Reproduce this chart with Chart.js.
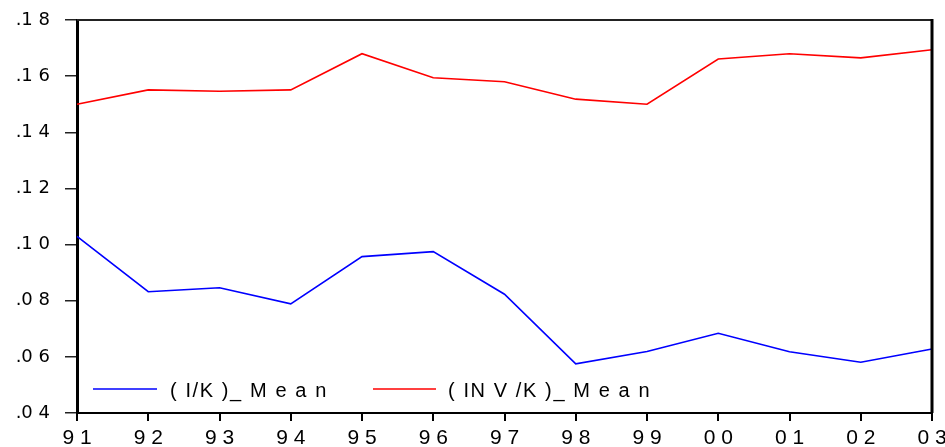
<!DOCTYPE html>
<html>
<head>
<meta charset="utf-8">
<script src="https://cdn.jsdelivr.net/npm/chart.js@4/dist/chart.umd.min.js"></script>
<style>
  html, body { margin: 0; padding: 0; background: #fff; }
  canvas { display: block; }
</style>
</head>
<body>
<canvas id="c" width="945" height="447"></canvas>
<script>
// Categories (years, shown as EViews prints them)
const years = ["9 1", "9 2", "9 3", "9 4", "9 5", "9 6", "9 7", "9 8", "9 9", "0 0", "0 1", "0 2", "0 3"];
// Series values
const ikMean  = [0.1029, 0.0832, 0.0846, 0.0789, 0.0957, 0.0975, 0.0823, 0.0575, 0.0619, 0.0684, 0.0618, 0.0581, 0.0628];
const invkMean = [0.1500, 0.1551, 0.1546, 0.1551, 0.1680, 0.1594, 0.1580, 0.1518, 0.1500, 0.1661, 0.1680, 0.1665, 0.1694];
// Series names
const seriesNames = ["( I/K )_ M e a n", "( IN V /K )_ M e a n"];
// Y tick labels (bottom to top)
const yTickValues = [0.04, 0.06, 0.08, 0.10, 0.12, 0.14, 0.16, 0.18];
const yTickLabels = [".0 4", ".0 6", ".0 8", ".1 0", ".1 2", ".1 4", ".1 6", ".1 8"];

const frame = {
  id: 'frame',
  afterDraw(chart) {
    const { ctx, chartArea: a } = chart;
    ctx.save();
    ctx.strokeStyle = '#222';
    ctx.lineWidth = 2;
    ctx.beginPath();
    ctx.moveTo(a.left, a.top);
    ctx.lineTo(a.right, a.top);
    ctx.stroke();
    ctx.strokeStyle = '#000';
    ctx.lineWidth = 3;
    ctx.beginPath();
    ctx.moveTo(a.right, a.top - 1);
    ctx.lineTo(a.right, a.bottom);
    ctx.stroke();
    ctx.restore();
  }
};

const innerLegend = {
  id: 'innerLegend',
  afterDatasetsDraw(chart) {
    const { ctx, chartArea: a } = chart;
    const y = a.bottom - 24;
    const items = [
      { x1: a.left + 16, x2: a.left + 80, tx: a.left + 93 },
      { x1: a.left + 296, x2: a.left + 359, tx: a.left + 371 }
    ];
    ctx.save();
    ctx.font = '20px "Liberation Sans", Arial, sans-serif';
    ctx.textBaseline = 'alphabetic';
    ctx.textAlign = 'left';
    try { ctx.letterSpacing = '1.6px'; } catch (e) {}
    chart.data.datasets.forEach((ds, i) => {
      const it = items[i];
      ctx.strokeStyle = ds.borderColor;
      ctx.lineWidth = 1.5;
      ctx.beginPath();
      ctx.moveTo(it.x1, y);
      ctx.lineTo(it.x2, y);
      ctx.stroke();
      ctx.fillStyle = '#000';
      ctx.fillText(ds.label, it.tx, y + 8);
    });
    ctx.restore();
  }
};

new Chart(document.getElementById('c'), {
  type: 'line',
  data: {
    labels: years,
    datasets: [
      { label: seriesNames[0], data: ikMean, borderColor: '#0000FF', borderWidth: 1.6, pointRadius: 0, tension: 0, fill: false },
      { label: seriesNames[1], data: invkMean, borderColor: '#FF0000', borderWidth: 1.6, pointRadius: 0, tension: 0, fill: false }
    ]
  },
  options: {
    responsive: false,
    animation: false,
    devicePixelRatio: 1,
    layout: { padding: { top: 20, right: 13, left: 0, bottom: 0 } },
    plugins: { legend: { display: false }, tooltip: { enabled: false } },
    scales: {
      x: {
        type: 'category',
        offset: false,
        grid: { offset: false, drawOnChartArea: false, drawTicks: true, tickLength: 8, color: '#000', lineWidth: 2 },
        border: { display: true, color: '#000', width: 2 },
        ticks: {
          color: '#000',
          font: { family: '"Liberation Sans", Arial, sans-serif', size: 21 },
          padding: 5,
          maxRotation: 0,
          autoSkip: false
        },
        afterFit(scale) { scale.height = 34; scale.paddingLeft = 0; scale.paddingRight = 0; }
      },
      y: {
        min: 0.04,
        max: 0.18,
        grid: { drawOnChartArea: false, drawTicks: true, tickLength: 12, color: '#222', lineWidth: 1.5 },
        border: { display: true, color: '#000', width: 3 },
        afterBuildTicks(scale) { scale.ticks = yTickValues.map(v => ({ value: v })); },
        ticks: {
          color: '#000',
          font: { family: '"DejaVu Sans", sans-serif', size: 18 },
          padding: 15,
          callback(value) {
            const i = yTickValues.findIndex(v => Math.abs(v - value) < 1e-9);
            return i >= 0 ? yTickLabels[i] : '';
          }
        },
        afterFit(scale) { scale.width = 77; scale.paddingTop = 0; scale.paddingBottom = 0; }
      }
    }
  },
  plugins: [innerLegend, frame]
});
</script>
</body>
</html>
